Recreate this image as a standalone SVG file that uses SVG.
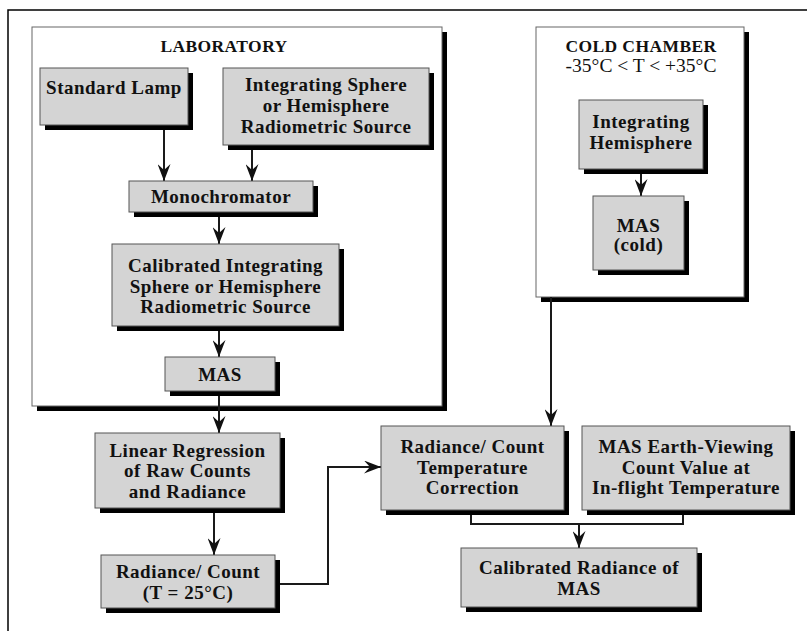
<svg xmlns="http://www.w3.org/2000/svg" width="807" height="631" viewBox="0 0 807 631">
<defs>
<style>
.frame{fill:none;stroke:#000;stroke-width:1.5}
.cont{fill:#fff;stroke:#666;stroke-width:1}
.box{fill:#d4d4d4;stroke:#555;stroke-width:1}
.sh{fill:#000}
.t{font-family:"Liberation Serif","Times New Roman",serif;font-weight:bold;font-size:19px;text-anchor:middle;letter-spacing:0.5px;fill:#111}
.h{font-family:"Liberation Serif","Times New Roman",serif;font-weight:bold;font-size:17.5px;text-anchor:middle;letter-spacing:0.4px;fill:#111}
.hn{font-family:"Liberation Serif","Times New Roman",serif;font-size:19.5px;text-anchor:middle;fill:#111}
.c{fill:none;stroke:#1a1a1a;stroke-width:2}
</style>
<marker id="ah" viewBox="0 0 17 13" refX="17" refY="6.5" markerWidth="17" markerHeight="13" markerUnits="userSpaceOnUse" orient="auto">
<path d="M0,0 L17,6.5 L0,13 L6,6.5 z" fill="#111"/>
</marker>
</defs>
<rect width="807" height="631" fill="#fff"/>
<path class="frame" d="M8,631 V10 H807"/>

<g id="laboratory">
<rect class="sh" x="37" y="32" width="410" height="379"/>
<rect class="cont" x="32" y="27" width="410" height="379"/>
<text class="h" x="224" y="52">LABORATORY</text>
</g>
<g id="cold-chamber">
<rect class="sh" x="541" y="32" width="208" height="270"/>
<rect class="cont" x="536" y="27" width="208" height="270"/>
<text class="h" x="641" y="52">COLD CHAMBER</text>
<text class="hn" x="641" y="72">-35°C &lt; T &lt; +35°C</text>
</g>

<g id="connectors">
<path class="c" d="M164,125 V181" marker-end="url(#ah)"/>
<path class="c" d="M252,145 V181" marker-end="url(#ah)"/>
<path class="c" d="M219,212 V244" marker-end="url(#ah)"/>
<path class="c" d="M219,326 V357" marker-end="url(#ah)"/>
<path class="c" d="M219,391 V433" marker-end="url(#ah)"/>
<path class="c" d="M214,508 V555" marker-end="url(#ah)"/>
<path class="c" d="M275,584 H328 V467 H381" marker-end="url(#ah)"/>
<path class="c" d="M551,297 V426" marker-end="url(#ah)"/>
<path class="c" d="M641,169 V196" marker-end="url(#ah)"/>
<path class="c" d="M471,510 V524 H683 V510"/>
<path class="c" d="M579,524 V548" marker-end="url(#ah)"/>
</g>

<g id="standard-lamp">
<rect class="sh" x="45" y="73" width="148" height="57"/>
<rect class="box" x="40" y="68" width="148" height="57"/>
<text class="t" x="114" y="94">Standard Lamp</text>
</g>
<g id="integrating-source">
<rect class="sh" x="228" y="73" width="206" height="77"/>
<rect class="box" x="223" y="68" width="206" height="77"/>
<text class="t" x="326" y="91">Integrating Sphere</text>
<text class="t" x="326" y="112">or Hemisphere</text>
<text class="t" x="326" y="133">Radiometric Source</text>
</g>
<g id="monochromator">
<rect class="sh" x="134" y="186" width="184" height="31"/>
<rect class="box" x="129" y="181" width="184" height="31"/>
<text class="t" x="221" y="203">Monochromator</text>
</g>
<g id="calibrated-source">
<rect class="sh" x="117" y="249" width="227" height="82"/>
<rect class="box" x="112" y="244" width="227" height="82"/>
<text class="t" x="225.5" y="272">Calibrated Integrating</text>
<text class="t" x="225.5" y="293">Sphere or Hemisphere</text>
<text class="t" x="225.5" y="313">Radiometric Source</text>
</g>
<g id="mas">
<rect class="sh" x="170" y="362" width="110" height="34"/>
<rect class="box" x="165" y="357" width="110" height="34"/>
<text class="t" x="220" y="381">MAS</text>
</g>
<g id="linear-regression">
<rect class="sh" x="100" y="438" width="185" height="75"/>
<rect class="box" x="95" y="433" width="185" height="75"/>
<text class="t" x="187.5" y="457">Linear Regression</text>
<text class="t" x="187.5" y="477">of Raw Counts</text>
<text class="t" x="187.5" y="498">and Radiance</text>
</g>
<g id="radiance-count-25">
<rect class="sh" x="106" y="560" width="174" height="53"/>
<rect class="box" x="101" y="555" width="174" height="53"/>
<text class="t" x="188" y="578">Radiance/ Count</text>
<text class="t" x="188" y="599">(T = 25°C)</text>
</g>
<g id="temp-correction">
<rect class="sh" x="386" y="431" width="183" height="84"/>
<rect class="box" x="381" y="426" width="183" height="84"/>
<text class="t" x="472.5" y="453">Radiance/ Count</text>
<text class="t" x="472.5" y="474">Temperature</text>
<text class="t" x="472.5" y="494">Correction</text>
</g>
<g id="earth-viewing">
<rect class="sh" x="587" y="431" width="208" height="84"/>
<rect class="box" x="582" y="426" width="208" height="84"/>
<text class="t" x="686" y="453">MAS Earth-Viewing</text>
<text class="t" x="686" y="474">Count Value at</text>
<text class="t" x="686" y="494">In-flight Temperature</text>
</g>
<g id="calibrated-radiance">
<rect class="sh" x="466" y="553" width="236" height="59"/>
<rect class="box" x="461" y="548" width="236" height="59"/>
<text class="t" x="579" y="574">Calibrated Radiance of</text>
<text class="t" x="579" y="595">MAS</text>
</g>
<g id="integrating-hemisphere">
<rect class="sh" x="584" y="105" width="124" height="69"/>
<rect class="box" x="579" y="100" width="124" height="69"/>
<text class="t" x="641" y="128">Integrating</text>
<text class="t" x="641" y="149">Hemisphere</text>
</g>
<g id="mas-cold">
<rect class="sh" x="598" y="201" width="91" height="74"/>
<rect class="box" x="593" y="196" width="91" height="74"/>
<text class="t" x="638.5" y="232">MAS</text>
<text class="t" x="638.5" y="251">(cold)</text>
</g>
</svg>
